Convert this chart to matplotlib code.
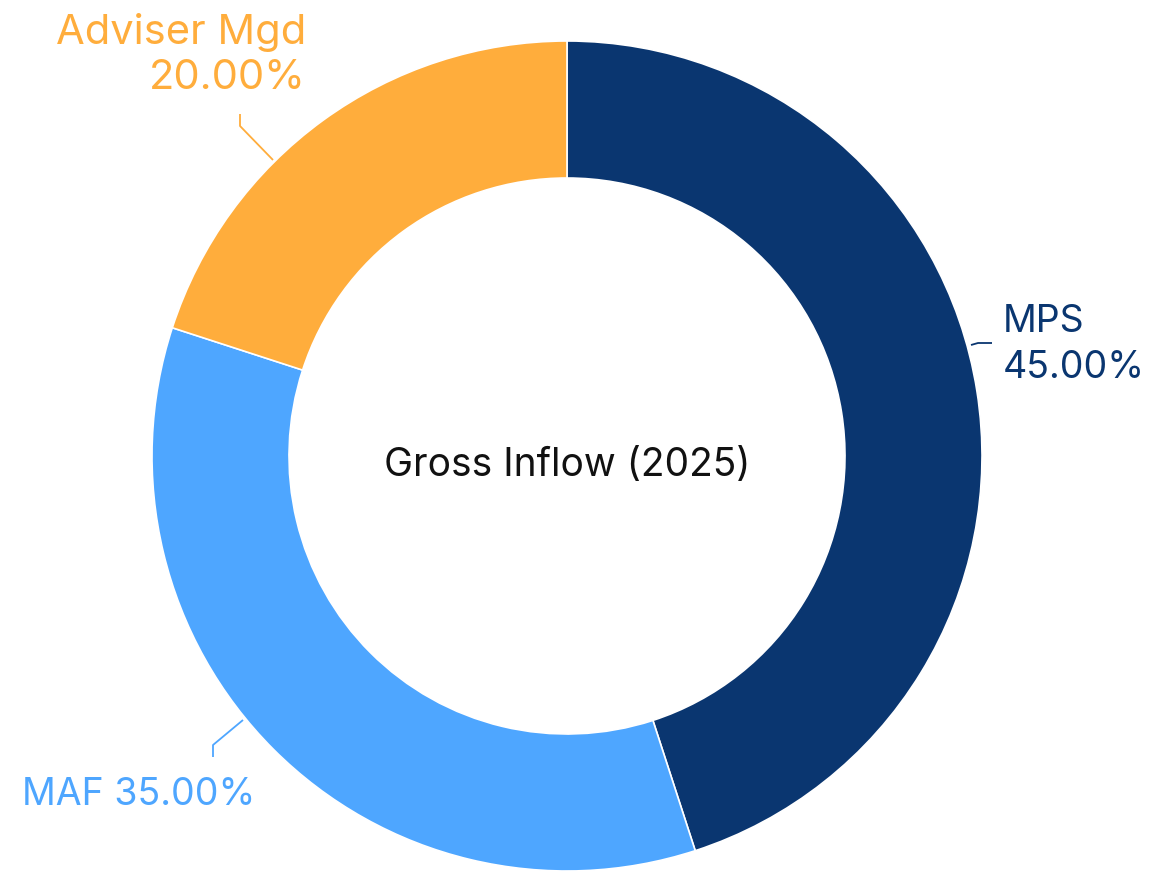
import matplotlib
matplotlib.use("Agg")
import matplotlib.pyplot as plt

categories = ["MPS", "MAF", "Adviser Mgd"]
values = [45.0, 35.0, 20.0]
colors = ["#0a3670", "#4ea6ff", "#ffad3c"]
center_title = "Gross Inflow (2025)"

W, H = 1151, 871
fig = plt.figure(figsize=(W / 100, H / 100), dpi=100)
ax = fig.add_axes([0, 0, 1, 1])

cx, cy = 567, H - 456
R = 415
ring = 137

wedges, _ = ax.pie(values, colors=colors, startangle=90, counterclock=False,
                   center=(cx, cy), radius=R, frame=True,
                   wedgeprops=dict(width=ring, edgecolor="white", linewidth=1.2))
ax.set_xlim(0, W)
ax.set_ylim(0, H)
ax.set_aspect("equal")
ax.axis("off")

fam = ["Inter", "DejaVu Sans"]
ax.text(cx, H - 466, center_title, ha="center", va="center", fontsize=28,
        color="#111111", family=fam)

def line(pts, c):
    xs = [p[0] for p in pts]
    ys = [H - p[1] for p in pts]
    ax.plot(xs, ys, color=c, lw=1.3, solid_capstyle="butt")

line([(971, 345), (978, 343), (992, 343)], colors[0])
line([(243, 720), (213, 745), (213, 757)], colors[1])
line([(273, 160), (240, 126), (240, 114)], colors[2])

# MPS
ax.text(1003, H - 322, categories[0], ha="left", va="center",
        fontsize=27, color=colors[0], family=fam)
ax.text(1003, H - 368, f"{values[0]:.2f}%", ha="left", va="center",
        fontsize=27, color=colors[0], family=fam)
# MAF
ax.text(22, H - 795, f"{categories[1]} {values[1]:.2f}%", ha="left", va="center",
        fontsize=27, color=colors[1], family=fam)
# Adviser Mgd
ax.text(306, H - 33, categories[2], ha="right", va="center",
        fontsize=30, color=colors[2], family=fam)
ax.text(306, H - 78, f"{values[2]:.2f}%", ha="right", va="center",
        fontsize=30, color=colors[2], family=fam)

fig.savefig("out.png", dpi=100, facecolor="white")
